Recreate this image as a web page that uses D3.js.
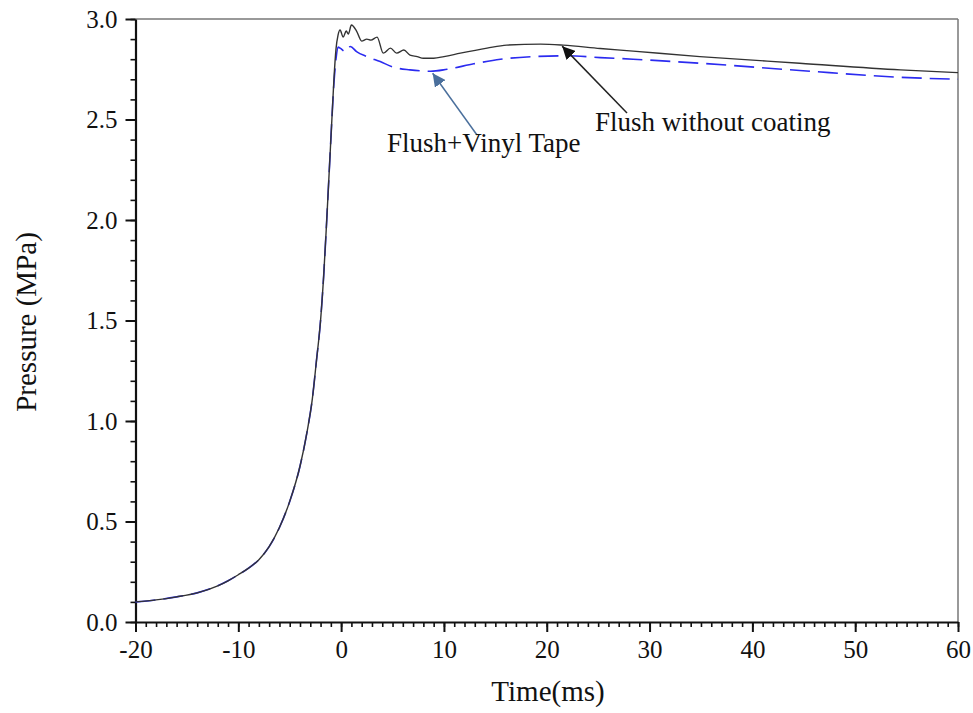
<!DOCTYPE html>
<html lang="en">
<meta charset="utf-8">
<style>
body { margin: 0; background: #fff; }
text { font-family: "Liberation Serif", "Times New Roman", serif; fill: #111; }
</style>
<body>
<script src="https://d3js.org/d3.v7.min.js"></script>
<div id="chart"></div>
<script>
// Flush without coating (black, solid)
var blackT = [-20,-18,-16,-14,-12,-11,-10,-9,-8,-7,-6,-5,-4,-3.3,-2.8,-2.4,-2.0,-1.7,-1.4,-1.1,-0.9,-0.7,-0.5,-0.3,-0.1,0.2,0.5,0.7,1.0,1.5,2.0,2.5,2.9,3.5,4.1,4.8,5.4,6.1,6.7,7.4,8,9,10,11.6,14.2,16.1,19.4,21.6,25.2,28.4,34.9,44.6,54.4,60];
var blackP = [0.10,0.11,0.125,0.145,0.18,0.205,0.235,0.268,0.31,0.375,0.47,0.60,0.775,0.95,1.11,1.30,1.50,1.72,2.00,2.30,2.50,2.70,2.85,2.92,2.945,2.91,2.94,2.925,2.97,2.94,2.89,2.90,2.895,2.91,2.83,2.855,2.83,2.846,2.82,2.813,2.805,2.805,2.813,2.83,2.855,2.87,2.875,2.87,2.853,2.84,2.813,2.78,2.747,2.733];

// Flush+Vinyl Tape (blue, dashed)
var blueT = [-20,-18,-16,-14,-12,-11,-10,-9,-8,-7,-6,-5,-4,-3.3,-2.8,-2.4,-2.0,-1.7,-1.4,-1.1,-0.9,-0.7,-0.5,-0.3,-0.1,0.4,0.9,1.5,2.5,3.8,5.1,6.7,8.7,10.3,12.9,15.5,18.7,22,25.2,28.4,34.9,44.6,54.4,60];
var blueP = [0.10,0.11,0.125,0.145,0.18,0.205,0.235,0.268,0.31,0.375,0.47,0.60,0.775,0.95,1.11,1.30,1.50,1.72,2.00,2.30,2.50,2.68,2.80,2.86,2.855,2.838,2.863,2.838,2.813,2.788,2.76,2.747,2.74,2.75,2.777,2.80,2.813,2.817,2.808,2.80,2.78,2.744,2.71,2.70];

var xMajor = [-20,-10,0,10,20,30,40,50,60];
var yMajor = [0.0,0.5,1.0,1.5,2.0,2.5,3.0];

var W = 973, H = 713;
var mLeft = 135.5, mRight = 958, mTop = 19, mBottom = 622;

var svg = d3.select("#chart").append("svg")
    .attr("width", W)
    .attr("height", H);

var x = d3.scaleLinear().domain([-20, 60]).range([mLeft, mRight]);
var y = d3.scaleLinear().domain([0, 3]).range([mBottom, mTop]);

// frame (top and right in grey)
svg.append("line").attr("x1", mLeft).attr("x2", mRight).attr("y1", mTop).attr("y2", mTop)
    .attr("stroke", "#777").attr("stroke-width", 1.5);
svg.append("line").attr("x1", mRight).attr("x2", mRight).attr("y1", mTop).attr("y2", mBottom)
    .attr("stroke", "#777").attr("stroke-width", 1.5);

// minor ticks
svg.append("g").attr("transform", "translate(0," + mBottom + ")")
    .call(d3.axisBottom(x).tickValues(d3.range(-20, 61, 1)).tickSize(5).tickFormat("").tickSizeOuter(0))
    .call(function(g) { g.select(".domain").remove(); g.selectAll("line").attr("stroke", "#111").attr("stroke-width", 1.6); });
svg.append("g").attr("transform", "translate(" + mLeft + ",0)")
    .call(d3.axisLeft(y).tickValues(d3.range(0, 31, 1).map(function(d) { return d / 10; })).tickSize(5).tickFormat("").tickSizeOuter(0))
    .call(function(g) { g.select(".domain").remove(); g.selectAll("line").attr("stroke", "#111").attr("stroke-width", 1.6); });

// major ticks + labels (hyphen minus like the original)
var xAxis = svg.append("g").attr("transform", "translate(0," + mBottom + ")")
    .call(d3.axisBottom(x).tickValues(xMajor).tickSize(10).tickPadding(8).tickSizeOuter(0)
      .tickFormat(function(d) { return String(d); }));
var yAxis = svg.append("g").attr("transform", "translate(" + mLeft + ",0)")
    .call(d3.axisLeft(y).tickValues(yMajor).tickSize(10).tickPadding(8).tickFormat(d3.format(".1f")).tickSizeOuter(0));

[xAxis, yAxis].forEach(function(g) {
  g.select(".domain").attr("stroke", "#111").attr("stroke-width", 2.2);
  g.selectAll(".tick line").attr("stroke", "#111").attr("stroke-width", 2);
  g.selectAll(".tick text").style("font-size", "25px").attr("fill", "#111");
});
xAxis.selectAll(".tick text").attr("dy", "0.72em");
yAxis.selectAll(".tick text").attr("dy", "0.33em");

// axis titles
svg.append("text").attr("x", 548).attr("y", 701)
    .attr("text-anchor", "middle").style("font-size", "29px").text("Time(ms)");
svg.append("text").attr("transform", "translate(36,322) rotate(-90)")
    .attr("text-anchor", "middle").style("font-size", "29px").text("Pressure (MPa)");

// curves
var line = d3.line()
    .x(function(d) { return x(d[0]); })
    .y(function(d) { return y(d[1]); })
    .curve(d3.curveMonotoneX);

svg.append("path")
    .datum(d3.zip(blueT, blueP))
    .attr("d", line)
    .attr("fill", "none")
    .attr("stroke", "#2b2bf0")
    .attr("stroke-width", 1.6)
    .attr("stroke-dasharray", "20,8");

svg.append("path")
    .datum(d3.zip(blackT, blackP))
    .attr("d", line)
    .attr("fill", "none")
    .attr("stroke", "#333")
    .attr("stroke-width", 1.4);

// annotations
var defs = svg.append("defs");
function marker(id, color) {
  defs.append("marker").attr("id", id)
      .attr("viewBox", "0 0 10 10").attr("refX", 10).attr("refY", 5)
      .attr("markerWidth", 13).attr("markerHeight", 13).attr("markerUnits", "userSpaceOnUse")
      .attr("orient", "auto")
    .append("path").attr("d", "M0,0L10,5L0,10z").attr("fill", color);
}
marker("headBlack", "#111");
marker("headBlue", "#4a6f9c");

svg.append("line").attr("x1", 627).attr("y1", 113).attr("x2", x(21.5)).attr("y2", y(2.87) + 1)
    .attr("stroke", "#222").attr("stroke-width", 1.5).attr("marker-end", "url(#headBlack)");
svg.append("line").attr("x1", 477).attr("y1", 135).attr("x2", x(8.9)).attr("y2", y(2.74) + 2)
    .attr("stroke", "#4a6f9c").attr("stroke-width", 1.5).attr("marker-end", "url(#headBlue)");

svg.append("text").attr("x", 387).attr("y", 152).style("font-size", "27px").text("Flush+Vinyl Tape");
svg.append("text").attr("x", 595).attr("y", 131).style("font-size", "27px").text("Flush without coating");
</script>
</body>
</html>
